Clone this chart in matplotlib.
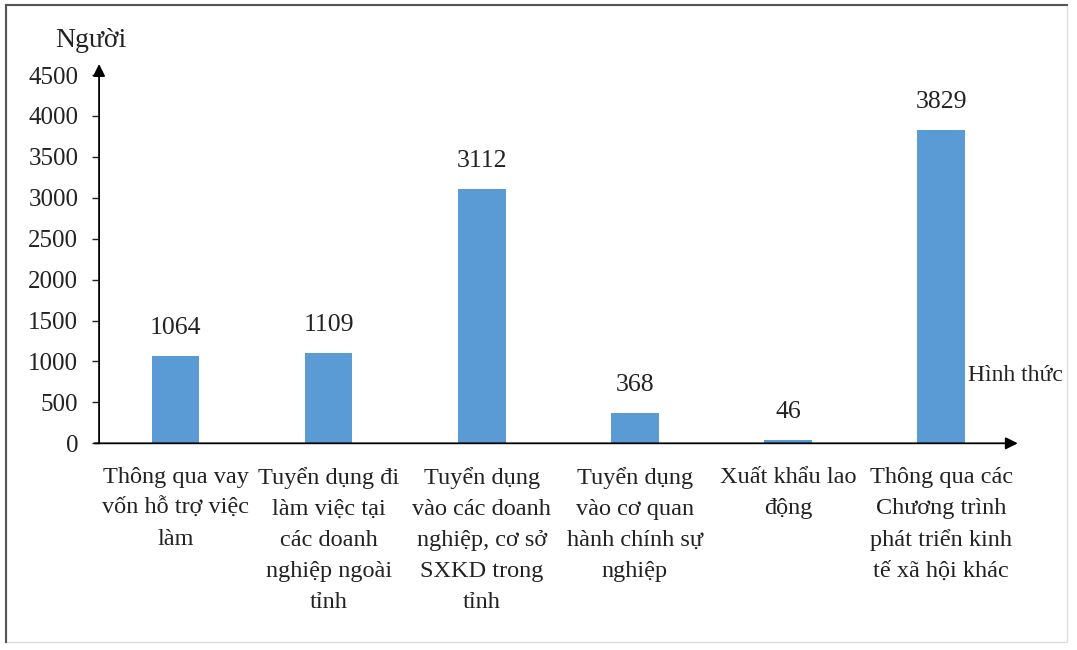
import numpy as np
import matplotlib.pyplot as plt
from matplotlib.patches import Rectangle

plt.rcParams['font.family'] = ['Liberation Serif', 'DejaVu Serif']

categories = [
    'Thông qua vay\nvốn hỗ trợ việc\nlàm',
    'Tuyển dụng đi\nlàm việc tại\ncác doanh\nnghiệp ngoài\ntỉnh',
    'Tuyển dụng\nvào các doanh\nnghiệp, cơ sở\nSXKD trong\ntỉnh',
    'Tuyển dụng\nvào cơ quan\nhành chính sự\nnghiệp',
    'Xuất khẩu lao\nđộng',
    'Thông qua các\nChương trình\nphát triển kinh\ntế xã hội khác',
]
values = [1064, 1109, 3112, 368, 46, 3829]
yticks = [0, 500, 1000, 1500, 2000, 2500, 3000, 3500, 4000, 4500]

fig = plt.figure(figsize=(10.77, 6.5), dpi=100)
ax = fig.add_axes([0.092, 0.318, 0.853, 0.5665])

x = np.arange(len(values))
bars = ax.bar(x, values, width=0.31, color='#5B9BD5', zorder=2)

for b, v in zip(bars, values):
    ax.annotate(str(v), (b.get_x() + b.get_width() / 2, v),
                xytext=(0, 20), textcoords='offset points',
                ha='center', va='center', fontsize=18.5, color='#222222')

ax.set_xlim(-0.5, 5.5)
ax.set_ylim(0, 4500)
ax.set_yticks(yticks)
ax.set_yticklabels([str(t) for t in yticks], fontsize=18)
ax.set_xticks([])
ax.tick_params(axis='y', direction='out', length=5, width=1, pad=10, colors='#222222')

for s in ['top', 'right', 'left', 'bottom']:
    ax.spines[s].set_visible(False)

# axes drawn as arrows
ax.annotate('', xy=(0, 1.03), xytext=(0, 0), xycoords='axes fraction',
            arrowprops=dict(arrowstyle='-|>', color='black', lw=1.3,
                            mutation_scale=18, shrinkA=0, shrinkB=0))
ax.annotate('', xy=(1.0, 0), xytext=(-0.005, 0), xycoords='axes fraction',
            arrowprops=dict(arrowstyle='-|>', color='black', lw=1.3,
                            mutation_scale=18, shrinkA=0, shrinkB=0))

for xi, lab in zip(x, categories):
    ax.text(xi, -290, lab, ha='center', va='top', fontsize=17.5,
            linespacing=1.62, color='#222222')

fig.text(0.084, 0.938, 'Người', ha='center', va='center', fontsize=20, color='#222222')
fig.text(0.899, 0.423, 'Hình thức', ha='left', va='center', fontsize=17, color='#222222')

# frame around the figure
fig.patches.append(Rectangle((0.006, 0.012), 0.985, 0.98, transform=fig.transFigure,
                             fill=False, edgecolor='#dddddd', lw=1))
fig.add_artist(plt.Line2D([0.006, 0.006], [0.012, 0.992], transform=fig.transFigure,
                          color='#555555', lw=1.5))
fig.add_artist(plt.Line2D([0.006, 0.991], [0.992, 0.992], transform=fig.transFigure,
                          color='#555555', lw=1.5))

fig.savefig('out.png', dpi=100)
